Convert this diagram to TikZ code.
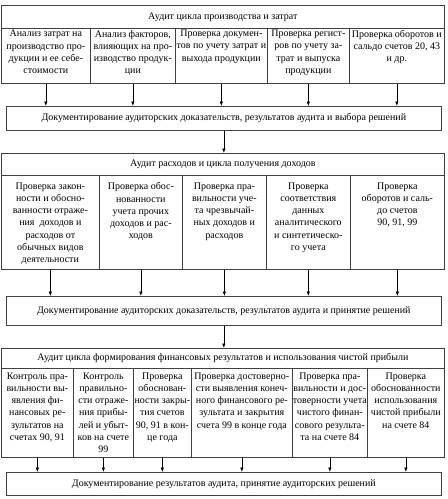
\documentclass[tikz,border=0pt]{standalone}
\usepackage{fontspec}
\setmainfont{Liberation Serif}
\usetikzlibrary{arrows.meta}

\begin{document}
\begin{tikzpicture}[x=1pt,y=-1pt,
  font=\fontsize{10}{12.2}\selectfont,
  cell/.style={draw=black!75, line width=0.7pt, anchor=north west, inner sep=0pt},
  lab/.style={anchor=north, align=center, inner sep=#1},
  arr/.style={-{Latex[length=4.5pt,width=3.5pt]}, line width=0.6pt}]
  \useasboundingbox (0,0) rectangle (448,499);

  \node[cell, minimum width=443, minimum height=23] (h1) at (1,5) {Аудит цикла производства и затрат};
  \node[cell, minimum width=89, minimum height=55, label={[lab=2pt]north:{Анализ затрат на\\производство про-\\дукции и ее себе-\\стоимости}}] (a1) at (1,28) {};
  \node[cell, minimum width=85, minimum height=55, label={[lab=2pt]north:{Анализ факторов,\\влияющих на про-\\изводство продук-\\ции}}] (a2) at (90,28) {};
  \node[cell, minimum width=92, minimum height=55, label={[lab=2pt]north:{Проверка докумен-\\тов по учету затрат и\\выхода продукции}}] (a3) at (175,28) {};
  \node[cell, minimum width=82, minimum height=55, label={[lab=2pt]north:{Проверка регист-\\ров по учету за-\\трат и выпуска\\продукции}}] (a4) at (267,28) {};
  \node[cell, minimum width=95, minimum height=55, label={[lab=2pt]north:{Проверка оборотов и\\сальдо счетов 20, 43\\и др.}}] (a5) at (349,28) {};
  \node[cell, minimum width=435, minimum height=24] (d1) at (6,106) {Документирование аудиторских доказательств, результатов аудита и выбора решений};

  \node[cell, minimum width=443, minimum height=22] (h2) at (1,153) {Аудит расходов и цикла получения доходов};
  \node[cell, minimum width=98, minimum height=94, label={[lab=7.5pt]north:{Проверка закон-\\ности и обосно-\\ванности отраже-\\ния \ доходов и\\расходов от\\обычных видов\\деятельности}}] (b1) at (1,175) {};
  \node[cell, minimum width=83, minimum height=94, label={[lab=7.5pt]north:{Проверка обос-\\нованности\\учета прочих\\доходов и рас-\\ходов}}] (b2) at (99,175) {};
  \node[cell, minimum width=84, minimum height=94, label={[lab=7.5pt]north:{Проверка пра-\\вильности уче-\\та чрезвычай-\\ных доходов и\\расходов}}] (b3) at (182,175) {};
  \node[cell, minimum width=84, minimum height=94, label={[lab=7.5pt]north:{Проверка\\соответствия\\данных\\аналитического\\и синтетическо-\\го учета}}] (b4) at (266,175) {};
  \node[cell, minimum width=94, minimum height=94, label={[lab=7.5pt]north:{Проверка\\оборотов и саль-\\до счетов\\90, 91, 99}}] (b5) at (350,175) {};
  \node[cell, minimum width=435, minimum height=29] (d2) at (6,296) {Документирование аудиторских доказательств, результатов аудита и принятие решений};

  \node[cell, minimum width=443, minimum height=20] (h3) at (1,348) {Аудит цикла формирования финансовых результатов и использования чистой прибыли};
  \node[cell, minimum width=72, minimum height=89, label={[lab=4.5pt]north:{Контроль пра-\\вильности вы-\\явления фи-\\нансовых ре-\\зультатов на\\счетах 90, 91}}] (c1) at (1,368) {};
  \node[cell, minimum width=60, minimum height=89, label={[lab=4.5pt]north:{Контроль\\правильно-\\сти отраже-\\ния прибы-\\лей и убыт-\\ков на счете\\99}}] (c2) at (73,368) {};
  \node[cell, minimum width=58, minimum height=89, label={[lab=4.5pt]north:{Проверка\\обоснован-\\ности закры-\\тия счетов\\90, 91 в кон-\\це года}}] (c3) at (133,368) {};
  \node[cell, minimum width=101, minimum height=89, label={[lab=4.5pt]north:{Проверка достоверно-\\сти выявления конеч-\\ного финансового ре-\\зультата и закрытия\\счета 99 в конце года}}] (c4) at (191,368) {};
  \node[cell, minimum width=75, minimum height=89, label={[lab=4.5pt]north:{Проверка пра-\\вильности и дос-\\товерности учета\\чистого финан-\\сового результа-\\та на счете 84}}] (c5) at (292,368) {};
  \node[cell, minimum width=77, minimum height=89, label={[lab=4.5pt]north:{Проверка\\обоснованности\\использования\\чистой прибыли\\на счете 84}}] (c6) at (367,368) {};
  \node[cell, minimum width=435, minimum height=23] (d3) at (6,472) {Документирование результатов аудита, принятие аудиторских решений};

  \foreach \n in {a1,a2,a3,a4,a5}
    \draw[arr] (\n.south) -- (\n.south |- d1.north);
  \draw[arr] (d1.south) -- (d1.south |- h2.north);
  \foreach \n in {b1,b2,b3,b4,b5}
    \draw[arr] (\n.south) -- (\n.south |- d2.north);
  \draw[arr] (d2.south) -- (d2.south |- h3.north);
  \foreach \n in {c1,c2,c3,c4,c5,c6}
    \draw[arr] (\n.south) -- (\n.south |- d3.north);
\end{tikzpicture}
\end{document}
